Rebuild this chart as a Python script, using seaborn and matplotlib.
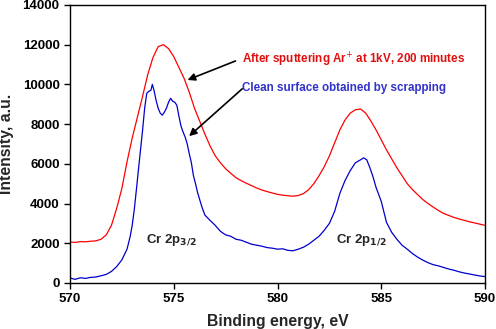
import numpy as np
import pandas as pd
import matplotlib
matplotlib.use("Agg")
import matplotlib.pyplot as plt
import seaborn as sns

# red curve: after Ar+ sputtering
red_energy = [570.00, 570.25, 570.50, 570.75, 571.00, 571.25, 571.50, 571.75,
              572.00, 572.25, 572.50, 572.75, 573.00, 573.25, 573.50, 573.75,
              574.00, 574.25, 574.50, 574.75, 575.00, 575.25, 575.50, 575.75,
              576.00, 576.25, 576.50, 576.75, 577.00, 577.25, 577.50, 577.75,
              578.00, 578.25, 578.50, 578.75, 579.00, 579.25, 579.50, 579.75,
              580.00, 580.25, 580.50, 580.75, 581.00, 581.25, 581.50, 581.75,
              582.00, 582.25, 582.50, 582.75, 583.00, 583.25, 583.50, 583.75,
              584.00, 584.25, 584.50, 584.75, 585.00, 585.25, 585.50, 585.75,
              586.00, 586.25, 586.50, 586.75, 587.00, 587.25, 587.50, 587.75,
              588.00, 588.25, 588.50, 588.75, 589.00, 589.25, 589.50, 589.75,
              590.00]
red_intensity = [2060, 2040, 2080, 2070, 2100, 2120, 2200, 2420,
                 2900, 3750, 4750, 6100, 7300, 8350, 9400, 10500,
                 11350, 11900, 12000, 11800, 11400, 10850, 10300, 9600,
                 8800, 8150, 7500, 6900, 6400, 6050, 5750, 5520,
                 5300, 5150, 5020, 4900, 4780, 4680, 4600, 4530,
                 4460, 4420, 4390, 4370, 4400, 4500, 4700, 5000,
                 5400, 5850, 6400, 7050, 7700, 8200, 8550, 8720,
                 8760, 8550, 8150, 7700, 7200, 6700, 6250, 5800,
                 5400, 5000, 4700, 4450, 4200, 4000, 3820, 3650,
                 3500, 3400, 3300, 3220, 3150, 3080, 3020, 2960,
                 2900]

# blue curve: clean surface by scrapping
blue_energy = [570.0, 570.25, 570.5, 570.75, 571.0, 571.25, 571.5, 571.75,
               572.0, 572.25, 572.5, 572.75, 572.9, 573.0, 573.1, 573.2,
               573.3, 573.4, 573.5, 573.6, 573.7, 573.8, 573.9, 573.97,
               574.05, 574.15, 574.25, 574.35, 574.45, 574.55, 574.65, 574.75,
               574.85, 574.95, 575.05, 575.15, 575.25, 575.35, 575.45, 575.55,
               575.65, 575.75, 575.85, 575.95, 576.05, 576.15, 576.25, 576.35,
               576.5, 576.75, 577.0, 577.25, 577.5, 577.75, 578.0, 578.25,
               578.5, 578.75, 579.0, 579.25, 579.5, 579.75, 580.0, 580.25,
               580.5, 580.75, 581.0, 581.25, 581.5, 581.75, 582.0, 582.25,
               582.5, 582.75, 583.0, 583.25, 583.5, 583.75, 584.0, 584.15,
               584.3, 584.45, 584.6, 584.75, 585.0, 585.25, 585.5, 585.75,
               586.0, 586.25, 586.5, 586.75, 587.0, 587.25, 587.5, 587.75,
               588.0, 588.25, 588.5, 588.75, 589.0, 589.25, 589.5, 589.75,
               590.0]
blue_intensity = [250, 180, 260, 230, 280, 300, 360, 430,
                  580, 820, 1160, 1700, 2330, 2900, 3700, 4680,
                  5700, 6700, 7700, 8800, 9550, 9650, 9700, 10000,
                  9700, 9200, 8800, 8550, 8450, 8600, 8800, 9100,
                  9300, 9150, 9100, 8950, 8400, 7900, 7600, 7350,
                  7000, 6500, 6050, 5400, 5000, 4550, 4200, 3850,
                  3420, 3150, 2900, 2600, 2420, 2350, 2200, 2150,
                  2050, 1950, 1900, 1850, 1780, 1750, 1700, 1720,
                  1640, 1620, 1700, 1800, 1950, 2150, 2350, 2650,
                  3000, 3600, 4500, 5150, 5650, 6050, 6200, 6300,
                  6200, 5800, 5350, 4800, 4100, 3050, 2550, 2200,
                  1900, 1700, 1480, 1300, 1150, 1020, 920, 860,
                  780, 700, 640, 560, 500, 450, 400, 350,
                  320]

x_ticks = [570, 575, 580, 585, 590]
y_ticks = [0, 2000, 4000, 6000, 8000, 10000, 12000, 14000]

sns.set_style("ticks")
plt.rcParams['font.family'] = ['Liberation Sans', 'DejaVu Sans']

red_df = pd.DataFrame({"energy": red_energy, "intensity": red_intensity})
blue_df = pd.DataFrame({"energy": blue_energy, "intensity": blue_intensity})

fig = plt.figure(figsize=(4.96, 3.29), dpi=100)
ax = fig.add_axes([0.141, 0.140, 0.837, 0.845])

sns.lineplot(data=red_df, x="energy", y="intensity", ax=ax, color="#ff0000", linewidth=0.9)
sns.lineplot(data=blue_df, x="energy", y="intensity", ax=ax, color="#0000cc", linewidth=0.9)

ax.set_xlim(570, 590)
ax.set_ylim(0, 14000)
ax.set_xticks(x_ticks)
ax.set_yticks(y_ticks)
ax.tick_params(direction="out", length=4, width=1, labelsize=9.5, colors="black")
for lab in ax.get_xticklabels() + ax.get_yticklabels():
    lab.set_fontweight("bold")
for s in ax.spines.values():
    s.set_visible(True)
    s.set_linewidth(1)
    s.set_color("black")

ax.set_xlabel("Binding energy, eV", fontsize=11.3, fontweight="bold", labelpad=6)
ax.set_ylabel("Intensity, a.u.", fontsize=11.3, fontweight="bold", labelpad=6)

ax.text(578.3, 11230, "After sputtering Ar$^{+}$ at 1kV, 200 minutes", color="#e01010",
        fontsize=8.4, fontweight="bold", va="center", ha="left")
ax.text(578.3, 9820, "Clean surface obtained by scrapping", color="#3333cc",
        fontsize=8.4, fontweight="bold", va="center", ha="left")
ax.annotate("", xy=(575.54, 10170), xytext=(578.1, 11230),
            arrowprops=dict(arrowstyle="-|>", color="black", lw=1.2, mutation_scale=11))
ax.annotate("", xy=(575.64, 7300), xytext=(578.4, 9870),
            arrowprops=dict(arrowstyle="-|>", color="black", lw=1.2, mutation_scale=11))

ax.text(573.66, 2165, r"Cr 2p$_{\mathbf{3/2}}$", fontsize=9.5, fontweight="bold", va="center")
ax.text(582.82, 2165, r"Cr 2p$_{\mathbf{1/2}}$", fontsize=9.5, fontweight="bold", va="center")

fig.savefig("out.png", dpi=100)
